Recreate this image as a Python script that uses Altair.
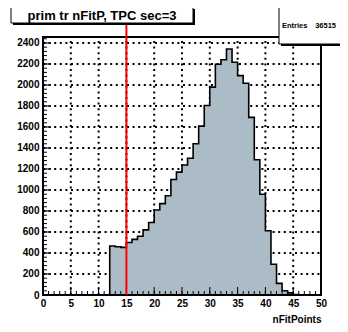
import altair as alt
import pandas as pd

# ---- data ----
bin_lo = list(range(0, 50))
counts = ([0] * 12 +
          [466, 460, 454, 500, 530, 560, 620, 690, 810, 870, 945, 1100,
           1170, 1238, 1302, 1440, 1608, 1805, 1980, 2198, 2240, 2343,
           2216, 2089, 2016, 1692, 1288, 959, 612, 293, 111, 40, 20, 5] +
          [0] * 4)
x_major = list(range(0, 51, 5))
x_minor = list(range(0, 51, 1))
y_major = list(range(0, 2401, 200))
y_minor = list(range(0, 2441, 40))
x_grid = list(range(5, 50, 5))
y_grid = list(range(200, 2401, 200))
cut_value = [15]
title_text = "prim tr nFitP, TPC sec=3"
stat_label = "Entries"
stat_value = "36515"
x_title = "nFitPoints"

W, H = 278, 258
FONT = "Liberation Sans"
FILL = "#acbcc7"
DASH = [2, 3.6]

hist = pd.DataFrame({"x": bin_lo + [50], "n": counts + [0]})
xs = alt.Scale(domain=[0, 50], nice=False, zero=False)
ys = alt.Scale(domain=[0, 2457], nice=False)

xaxis = alt.Axis(values=x_major, format="d", grid=False, ticks=False, domain=False,
                 labelFont=FONT, labelFontWeight="bold", labelFontSize=10,
                 labelColor="black", labelPadding=3, title=x_title, titleFont=FONT,
                 titleFontWeight="bold", titleFontSize=10, titleColor="black",
                 titleX=W, titleY=24, titleAlign="right", titleBaseline="middle",
                 labelFlush=False, labelOverlap=False)
yaxis = alt.Axis(values=y_major, format="d", grid=False, ticks=False, domain=False,
                 labelFont=FONT, labelFontWeight="bold", labelFontSize=10,
                 labelColor="black", labelPadding=4, title="", labelFlush=False,
                 labelOverlap=False)

X = lambda: alt.X("x:Q", scale=xs, axis=xaxis)
Y = lambda: alt.Y("n:Q", scale=ys, axis=yaxis)

# dotted grid (drawn under the histogram)
xgrid = alt.Chart(pd.DataFrame({"x": x_grid})).mark_rule(
    color="black", strokeWidth=2, strokeDash=DASH).encode(
    x=X(), y=alt.value(H), y2=alt.value(0))
ygrid = alt.Chart(pd.DataFrame({"n": y_grid})).mark_rule(
    color="black", strokeWidth=2, strokeDash=DASH).encode(
    y=Y(), x=alt.value(0), x2=alt.value(W))

area = alt.Chart(hist).mark_area(interpolate="step-after", color=FILL).encode(x=X(), y=Y())
outline = alt.Chart(hist).mark_line(interpolate="step-after", color="black",
                                    strokeWidth=1.6).encode(x=X(), y=Y())

def xticks(vals, length):
    return alt.Chart(pd.DataFrame({"x": vals})).mark_rule(color="black", strokeWidth=1).encode(
        x=X(), y=alt.value(H), y2=alt.value(H - length))

def yticks(vals, length):
    return alt.Chart(pd.DataFrame({"n": vals})).mark_rule(color="black", strokeWidth=1).encode(
        y=Y(), x=alt.value(0), x2=alt.value(length))

one = pd.DataFrame({"k": [0]})
frame = alt.Chart(one).mark_rect(filled=False, stroke="black", strokeWidth=2).encode(
    x=alt.value(0), x2=alt.value(W), y=alt.value(0), y2=alt.value(H))

red = alt.Chart(pd.DataFrame({"x": cut_value})).mark_rule(color="#ff0000", strokeWidth=2).encode(
    x=X(), y=alt.value(H), y2=alt.value(-33))

def box(x0, x1, y0, y1):
    shadow = alt.Chart(one).mark_rect(fill="black").encode(
        x=alt.value(x0 + 2), x2=alt.value(x1 + 2), y=alt.value(y0 + 2), y2=alt.value(y1 + 2))
    body = alt.Chart(one).mark_rect(fill="white", stroke="black", strokeWidth=1).encode(
        x=alt.value(x0), x2=alt.value(x1), y=alt.value(y0), y2=alt.value(y1))
    return [shadow, body]

title_txt = alt.Chart(pd.DataFrame({"t": [title_text]})).mark_text(
    font=FONT, fontWeight="bold", fontSize=13, color="black", align="center",
    baseline="middle").encode(x=alt.value(59), y=alt.value(-21.5), text="t:N")

stat_txt1 = alt.Chart(pd.DataFrame({"t": [stat_label]})).mark_text(
    font=FONT, fontWeight="bold", fontSize=7.5, color="black", align="left",
    baseline="middle").encode(x=alt.value(239), y=alt.value(-11), text="t:N")
stat_txt2 = alt.Chart(pd.DataFrame({"t": [stat_value]})).mark_text(
    font=FONT, fontWeight="bold", fontSize=7.5, color="black", align="right",
    baseline="middle").encode(x=alt.value(293), y=alt.value(-11), text="t:N")

layers = [xgrid, ygrid, area, outline,
          xticks(x_major, 8), xticks(x_minor, 4), yticks(y_major, 8), yticks(y_minor, 4),
          frame, red] + box(-32, 150, -30, -14) + [title_txt] + \
         box(236, 306, -31, 7) + [stat_txt1, stat_txt2]

chart = alt.layer(*layers).properties(
    width=W, height=H,
    autosize=alt.AutoSizeParams(type="none"),
    padding={"left": 35, "top": 29, "right": 19, "bottom": 29},
).configure_view(stroke=None).configure(background="white")

chart.save("out.html", embed_options={"renderer": "svg", "actions": False})
